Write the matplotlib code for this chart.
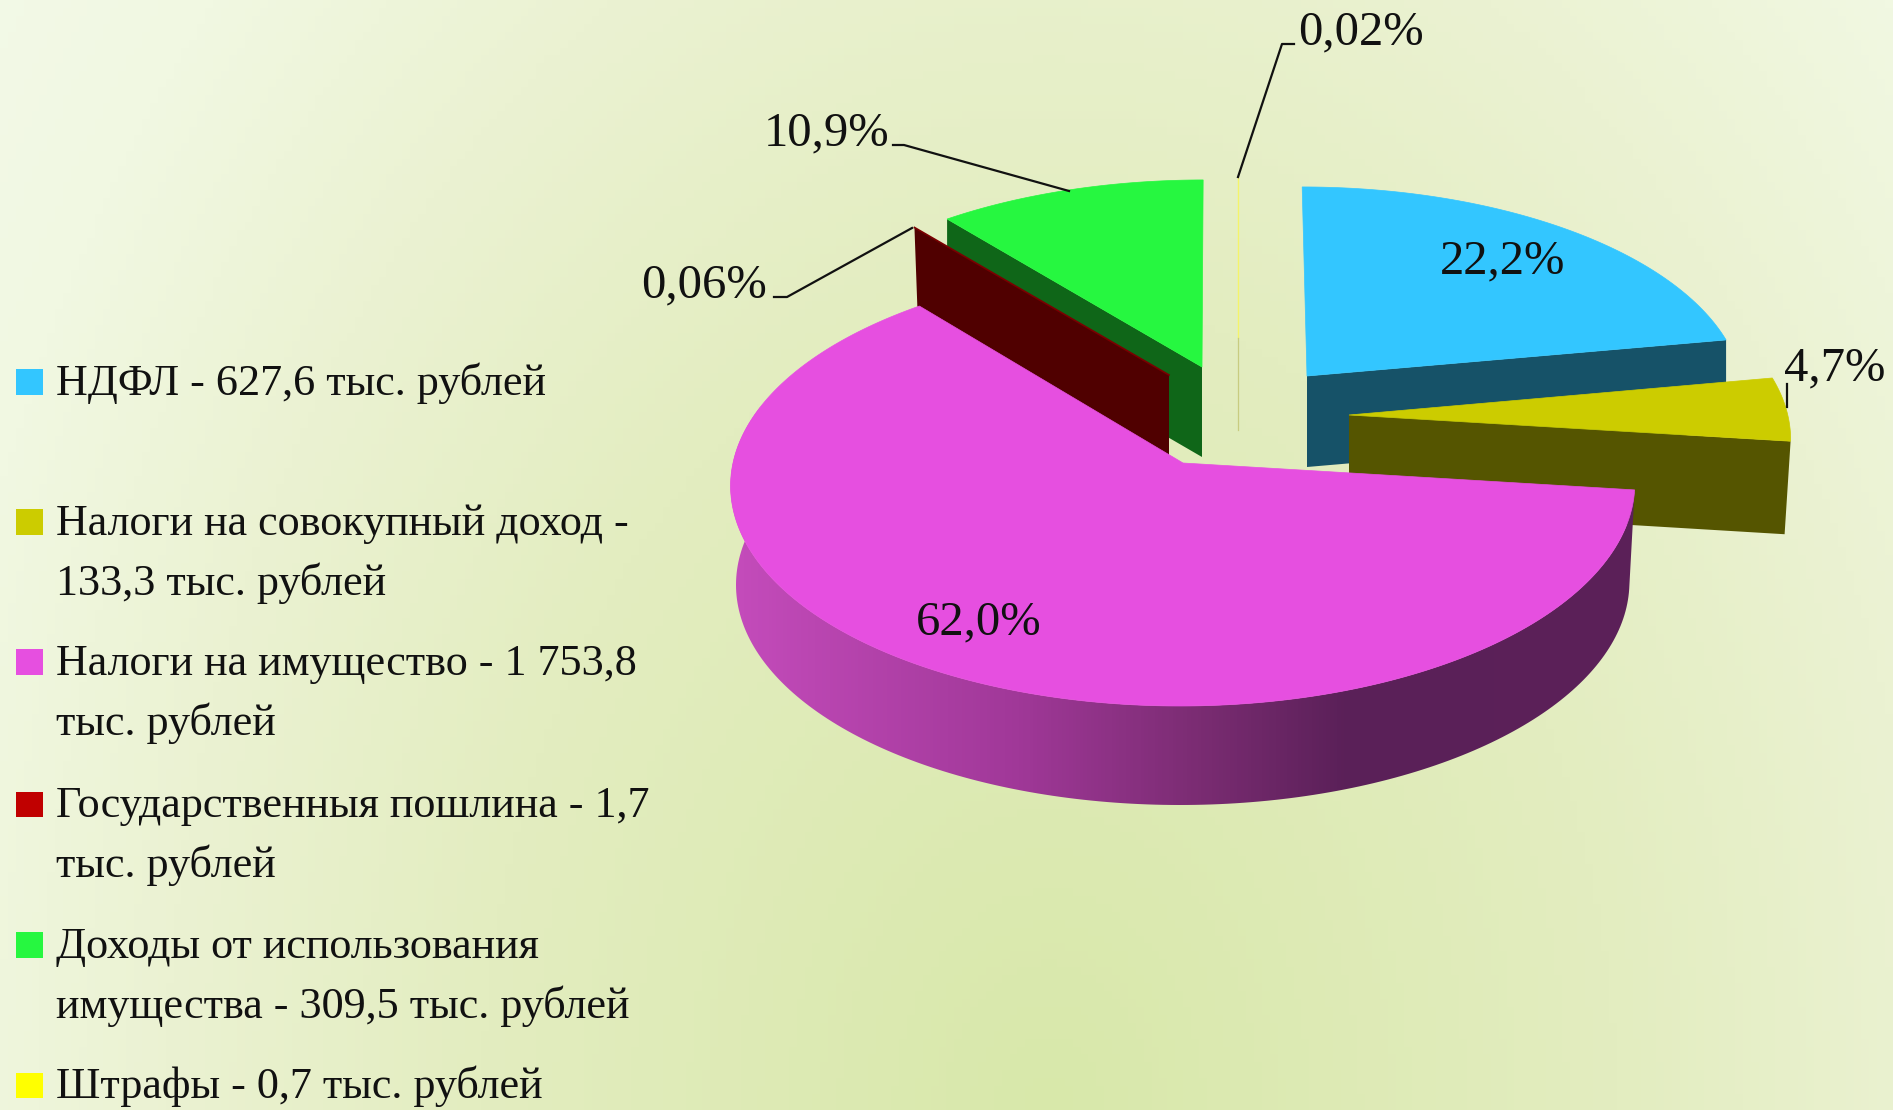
import numpy as np
import matplotlib
matplotlib.use('Agg')
import matplotlib.pyplot as plt
from matplotlib.colors import LinearSegmentedColormap
from matplotlib.patches import Polygon, Rectangle

plt.rcParams['font.family'] = ['Liberation Serif', 'DejaVu Serif']

# values, thousand roubles
categories = ['НДФЛ', 'Налоги на совокупный доход', 'Налоги на имущество',
              'Государственныя пошлина', 'Доходы от использования имущества', 'Штрафы']
values = [627.6, 133.3, 1753.8, 1.7, 309.5, 0.7]
pct_labels = ['22,2%', '4,7%', '62,0%', '0,06%', '10,9%', '0,02%']
legend_labels = ['НДФЛ - 627,6 тыс. рублей',
                 'Налоги на совокупный доход -\n133,3 тыс. рублей',
                 'Налоги на имущество - 1 753,8\nтыс. рублей',
                 'Государственныя пошлина - 1,7\nтыс. рублей',
                 'Доходы от использования\nимущества - 309,5 тыс. рублей',
                 'Штрафы - 0,7 тыс. рублей']

# styling of each slice
top_colors = ['#33C6FF', '#CCCC00', '#E64FE0', '#7A0000', '#26F740', '#FFFF00']
wall_colors = ['#165268', '#555500', '#5A1F55', '#500000', '#0F6618', '#C8CC80']
legend_colors = ['#33C6FF', '#CCCC00', '#E64FE0', '#C00000', '#26F740', '#FFFF00']
apex_x = [1307, 1349, 1183, 1169, 1202, 1238]
apex_y = [376, 415, 463, 375, 367, 338]
slice_scale = [0.95, 0.975, 1.0, 0.94, 0.94, 0.81]
slice_sx = [1.015, 1.0, 1.0, 1.03, 1.03, 1.0]
depth = [91, 93, 99, 82, 90, 92]
wall_inset = [0, 6, 0, 0, 0, 0]

W, H = 1893, 1110
fig = plt.figure(figsize=(W / 100, H / 100), dpi=100)
ax = fig.add_axes([0, 0, 1, 1])
ax.set_axis_off()

# page background, pale corners and a greener lower middle
xx, yy = np.meshgrid(np.linspace(0, W, 240), np.linspace(0, H, 140))
t = np.sqrt(((xx - 1050) / 1100) ** 2 + ((yy - 1120) / 1600) ** 2)
bg_cmap = LinearSegmentedColormap.from_list(
    'bg', [(0, '#D8E8AA'), (0.4, '#E3EDC0'), (0.62, '#EBF2D2'), (0.8, '#F1F8E2'), (1, '#F4FAEA')])
ax.imshow(t, cmap=bg_cmap, extent=[0, W, H, 0], aspect='auto', vmin=0, vmax=1.3, zorder=0)


def project(theta, i, sx=None):
    # tilted disc with a little perspective: the back of the pie is smaller
    s = slice_scale[i]
    if sx is None:
        sx = slice_sx[i]
    x = np.cos(np.radians(theta))
    y = np.sin(np.radians(theta))
    px = apex_x[i] + s * sx * (x * (450 - 44 * y) + 0.065 * y * (1230 - apex_x[i]))
    py = apex_y[i] - s * (221 * y - 22 * y ** 2)
    return px, py


total = sum(values)
ends = 90 - 360 * np.cumsum(values) / total
starts = np.r_[90, ends[:-1]]

# back slices first, pink one last; the cut face is the one that looks at the viewer
cut_angle = [ends[0], ends[1], None, starts[3], starts[4], None]
for i in [4, 0, 1]:
    th = np.linspace(starts[i], ends[i], 80)
    px, py = project(th, i)
    a_x, a_y = apex_x[i], apex_y[i]
    ex, ey = project(cut_angle[i], i)
    ax.add_patch(Polygon([(a_x, a_y), (ex, ey), (ex - wall_inset[i], ey + depth[i]),
                          (a_x, a_y + depth[i])],
                         fc=wall_colors[i], ec='none', zorder=2 + i * 0.01))
    ax.add_patch(Polygon(np.r_[[(a_x, a_y)], np.c_[px, py]], fc=top_colors[i],
                         ec=top_colors[i], lw=0.5, zorder=2.1 + i * 0.01))

# thin yellow slice shows as a hairline
ax.plot([apex_x[5], apex_x[5]], [project(90, 5)[1], apex_y[5]], color='#F4F46A', lw=1.0, zorder=3)
ax.plot([apex_x[5], apex_x[5]], [apex_y[5], apex_y[5] + depth[5]], color=wall_colors[5], lw=0.9, zorder=3)

# pink slice: curved wall with a horizontal gradient, then the top
i = 2
th_top = np.linspace(starts[i], -195, 200)
tx, ty = project(th_top, i)
bx, by = project(th_top, i, sx=0.988)
by = by + depth[i]
wall = Polygon(np.r_[np.c_[tx, ty], np.c_[bx, by][::-1]], fc='none', ec='none', zorder=4)
ax.add_patch(wall)
wall_cmap = LinearSegmentedColormap.from_list(
    'wall', [(0, '#C54CBC'), (0.32, '#A03898'), (0.52, '#7A2C72'), (0.68, '#5A2058'), (1, '#5C2159')])
grad = ax.imshow(np.linspace(0, 1, 256).reshape(1, -1), cmap=wall_cmap,
                 extent=[tx.min() - 5, tx.max() + 5, by.max() + 5, ty.min() - 5],
                 aspect='auto', zorder=4)
grad.set_clip_path(wall)

# brown cut face stands behind the pink edge
ex, ey = project(cut_angle[3], 3)
ax.add_patch(Polygon([(apex_x[3], apex_y[3]), (ex, ey), (ex + 3, ey + depth[3]),
                      (apex_x[3], apex_y[3] + depth[3])], fc=wall_colors[3], ec='none', zorder=4.5))
ax.plot([apex_x[3], ex], [apex_y[3], ey], color=top_colors[3], lw=1.2, zorder=4.6)

th = np.linspace(starts[i], ends[i], 300)
px, py = project(th, i)
ax.add_patch(Polygon(np.r_[[(apex_x[i], apex_y[i])], np.c_[px, py]], fc=top_colors[i],
                     ec=top_colors[i], lw=0.5, zorder=5))

# percent labels
label_x = [1503, 1835, 979, 704, 827, 1361]
label_y = [273, 380, 634, 297, 145, 44]
for k in range(len(pct_labels)):
    ax.text(label_x[k], label_y[k], pct_labels[k], fontsize=35, color='#111111',
            ha='center', va='baseline', zorder=8)

# leader lines
leaders = [([1238, 1282, 1294], [177, 44, 44]),
           ([1069, 904, 893], [191, 145, 145]),
           ([912, 787, 774], [228, 297, 297]),
           ([1787, 1787], [384, 407])]
for lx, ly in leaders:
    ax.plot(lx, ly, color='#111111', lw=1.6, zorder=7)

# legend
legend_top = [369, 509, 649, 792, 932, 1073]
legend_base = [395, 535, 675, 817, 958, 1098]
for k in range(len(legend_labels)):
    ax.add_patch(Rectangle((16, legend_top[k]), 27, legend_base[k] - legend_top[k],
                           fc=legend_colors[k], ec='none', zorder=8))
    for n, line in enumerate(legend_labels[k].split('\n')):
        ax.text(56, legend_base[k] + n * 60, line, fontsize=31.8, color='#111111',
                ha='left', va='baseline', zorder=8)

ax.set_xlim(0, W)
ax.set_ylim(H, 0)
fig.savefig('out.png', dpi=100)
